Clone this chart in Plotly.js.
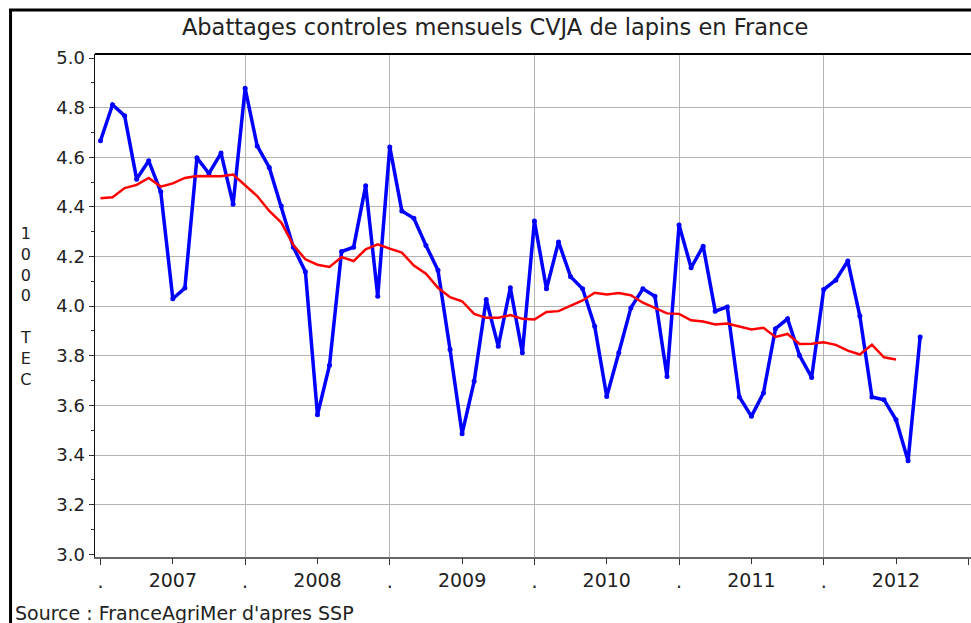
<!DOCTYPE html>
<html>
<head>
<meta charset="utf-8">
<script src="https://cdn.plot.ly/plotly-3.0.1.min.js"></script>
<style>html,body{margin:0;padding:0;background:#fff;}#chart{width:971px;height:623px;}</style>
</head>
<body>
<div id="chart"></div>
<script>
// Monthly controlled slaughter (1000 TEC), CVJA rabbits, France
const monthly = [4.667, 4.812, 4.768, 4.512, 4.586, 4.461, 4.030, 4.073, 4.598, 4.535, 4.617, 4.411,
  4.878, 4.646, 4.559, 4.404, 4.238, 4.139, 3.562, 3.762, 4.220, 4.238, 4.485, 4.040,
  4.642, 4.384, 4.354, 4.245, 4.145, 3.825, 3.486, 3.697, 4.027, 3.838, 4.074, 3.812,
  4.343, 4.070, 4.259, 4.119, 4.070, 3.919, 3.636, 3.812, 3.993, 4.070, 4.040, 3.717,
  4.327, 4.155, 4.242, 3.980, 3.997, 3.634, 3.556, 3.650, 3.909, 3.949, 3.801, 3.713,
  4.067, 4.105, 4.182, 3.960, 3.634, 3.623, 3.542, 3.377, 3.876];
// 12-month moving average
const movingAvg = [4.435, 4.439, 4.476, 4.489, 4.517, 4.482, 4.495, 4.517, 4.525, 4.523, 4.524, 4.531,
  4.488, 4.444, 4.384, 4.337, 4.246, 4.189, 4.167, 4.158, 4.198, 4.182, 4.229, 4.249,
  4.232, 4.216, 4.164, 4.131, 4.074, 4.036, 4.020, 3.969, 3.953, 3.953, 3.964, 3.949,
  3.946, 3.977, 3.980, 4.000, 4.023, 4.054, 4.047, 4.053, 4.044, 4.014, 3.991, 3.971,
  3.969, 3.943, 3.938, 3.926, 3.930, 3.919, 3.906, 3.913, 3.876, 3.888, 3.848, 3.849,
  3.855, 3.844, 3.821, 3.805, 3.845, 3.794, 3.785];
const years = ['2007', '2008', '2009', '2010', '2011', '2012'];
const yearTickPos = [6, 18, 30, 42, 54, 66];
const boundaryTickPos = [0, 12, 24, 36, 48, 60, 72];
const boundaryTickText = ['.', '.', '.', '.', '.', '.', '.'];
const xGridPos = [12, 24, 36, 48, 60];
const yTickVals = [3.0, 3.2, 3.4, 3.6, 3.8, 4.0, 4.2, 4.4, 4.6, 4.8, 5.0];
const yGridVals = [3.2, 3.4, 3.6, 3.8, 4.0, 4.2, 4.4, 4.6, 4.8];
const titleText = 'Abattages controles mensuels CVJA de lapins en France';
const yTitleText = '1<br>0<br>0<br>0<br> <br>T<br>E<br>C';
const sourceText = "Source : FranceAgriMer d'apres SSP";

const xMonthly = monthly.map((v, i) => i);
const xAvg = movingAvg.map((v, i) => i);

const FONT = 'DejaVu Sans, sans-serif';
const xRange = [-0.456, 72.22];
const yRange = [2.989, 5.0165];

const traces = [
  {x: xMonthly, y: monthly, type: 'scatter', mode: 'lines+markers',
   line: {color: '#0000ff', width: 3.5}, marker: {color: '#0000ff', size: 5},
   xaxis: 'x', yaxis: 'y', hoverinfo: 'skip'},
  {x: xAvg, y: movingAvg, type: 'scatter', mode: 'lines',
   line: {color: '#ff0000', width: 2.5},
   xaxis: 'x2', yaxis: 'y2', hoverinfo: 'skip'}
];

const layout = {
  width: 971, height: 623,
  margin: {l: 94.5, r: 0, t: 54, b: 65.5},
  paper_bgcolor: '#ffffff', plot_bgcolor: 'rgba(0,0,0,0)',
  showlegend: false,
  font: {family: FONT, color: '#222', size: 18},
  title: {text: titleText, font: {family: FONT, size: 22.5, color: '#222'},
          x: 0.51, xref: 'container', xanchor: 'center', y: 0.957, yref: 'container', yanchor: 'middle'},
  xaxis: {range: xRange, tickmode: 'array', tickvals: boundaryTickPos, ticktext: boundaryTickText,
          ticks: 'outside', ticklen: 6, tickcolor: '#333', tickwidth: 1,
          showgrid: false, zeroline: false, showline: true, linecolor: '#666', linewidth: 2,
          tickfont: {family: FONT, size: 19, color: '#222'}, fixedrange: true},
  xaxis2: {range: xRange, overlaying: 'x', anchor: 'y', side: 'bottom', tickmode: 'array',
           tickvals: yearTickPos, ticktext: years, ticks: 'outside', ticklen: 6, tickcolor: '#333',
           showgrid: false, zeroline: false, showline: false,
           tickfont: {family: FONT, size: 19, color: '#222'}},
  xaxis3: {range: xRange, overlaying: 'x', anchor: 'y', tickmode: 'array', tickvals: xGridPos,
           showticklabels: false, ticks: '', showgrid: true, gridcolor: '#b4b4b4', gridwidth: 1,
           zeroline: false, showline: false},
  yaxis: {range: yRange, tickmode: 'array', tickvals: yTickVals, tickformat: '.1f',
          ticks: 'outside', ticklen: 5, tickcolor: '#333',
          minor: {dtick: 0.1, tick0: 3.0, ticks: 'outside', ticklen: 3, tickcolor: '#333', showgrid: false},
          showgrid: false, zeroline: false, showline: true, linecolor: '#111', linewidth: 1.5,
          tickfont: {family: FONT, size: 18, color: '#222'}},
  yaxis2: {range: yRange, overlaying: 'y', anchor: 'x', tickmode: 'array', tickvals: yGridVals,
           showticklabels: false, ticks: '', showgrid: true, gridcolor: '#b4b4b4', gridwidth: 1,
           zeroline: false, showline: false},
  annotations: [
    {text: yTitleText, xref: 'paper', yref: 'paper', x: -0.0793, y: 0.4985,
     xanchor: 'center', yanchor: 'middle', showarrow: false, align: 'center',
     font: {family: FONT, size: 16, color: '#222'}},
    {text: sourceText, xref: 'paper', yref: 'paper', x: -0.0941, y: -0.112,
     xanchor: 'left', yanchor: 'middle', showarrow: false,
     font: {family: FONT, size: 19, color: '#222'}}
  ],
  shapes: [
    {type: 'line', xref: 'paper', yref: 'paper', x0: 0, x1: 1.01, y0: 1, y1: 1,
     line: {color: '#000', width: 2}},
    {type: 'rect', xref: 'paper', yref: 'paper', x0: -0.0964, x1: 1.2, y0: -0.3, y1: 1.0874,
     line: {color: '#000', width: 3}}
  ]
};

// gridline axis needs an anchor trace so it renders
traces.push({x: [], y: [], type: 'scatter', xaxis: 'x3', yaxis: 'y', hoverinfo: 'skip', showlegend: false});

Plotly.newPlot('chart', traces, layout, {displayModeBar: false, staticPlot: true});
</script>
</body>
</html>
